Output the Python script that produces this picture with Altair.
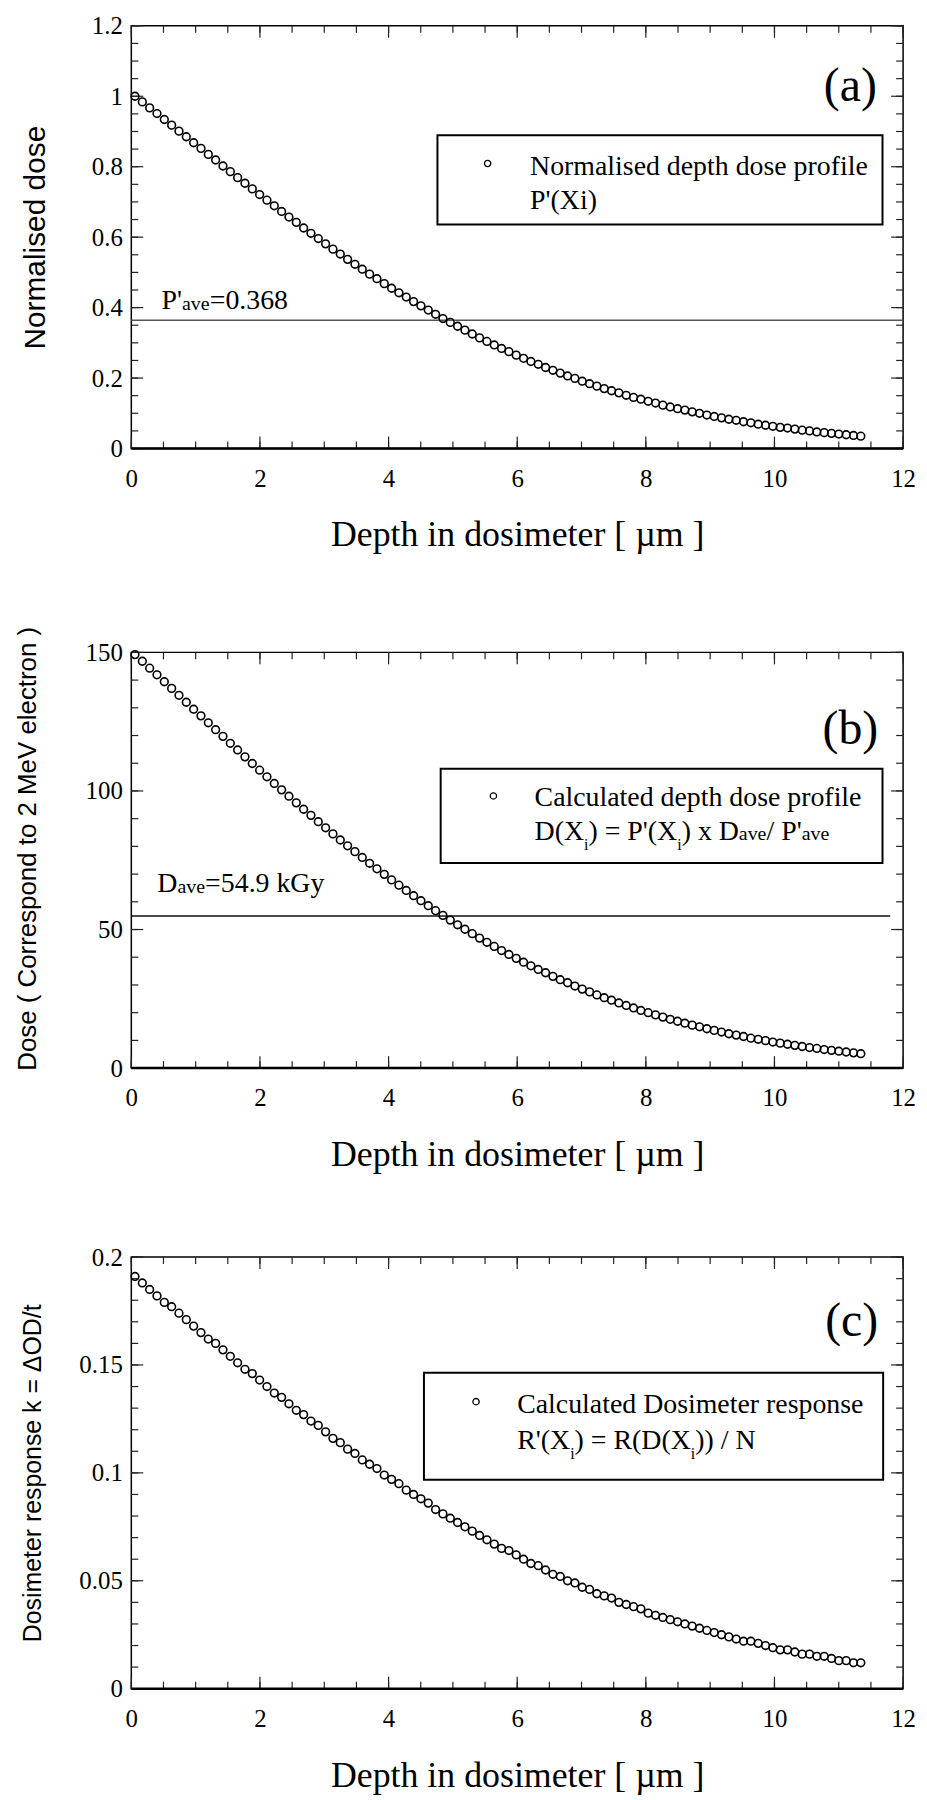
import altair as alt
import pandas as pd

SERIF = "Liberation Serif"
SANS = "Liberation Sans"
W = 776
H_A, H_B, H_C = 425, 418, 434

# ---------------- data ----------------
depth = [0.057, 0.171, 0.285, 0.399, 0.513, 0.627, 0.741, 0.855, 0.969, 1.083,
         1.197, 1.311, 1.425, 1.539, 1.653, 1.767, 1.881, 1.995, 2.109, 2.223,
         2.337, 2.451, 2.565, 2.679, 2.793, 2.907, 3.021, 3.135, 3.249, 3.363,
         3.477, 3.591, 3.705, 3.819, 3.933, 4.047, 4.161, 4.275, 4.389, 4.503,
         4.617, 4.731, 4.845, 4.959, 5.073, 5.187, 5.301, 5.415, 5.529, 5.643,
         5.757, 5.871, 5.985, 6.099, 6.213, 6.327, 6.441, 6.555, 6.669, 6.783,
         6.897, 7.011, 7.125, 7.239, 7.353, 7.467, 7.581, 7.695, 7.809, 7.923,
         8.037, 8.151, 8.265, 8.379, 8.493, 8.607, 8.721, 8.835, 8.949, 9.063,
         9.177, 9.291, 9.405, 9.519, 9.633, 9.747, 9.861, 9.975, 10.089, 10.203,
         10.317, 10.431, 10.545, 10.659, 10.773, 10.887, 11.001, 11.115, 11.229, 11.343]

p_norm = [1.000, 0.984, 0.967, 0.951, 0.934, 0.918, 0.901, 0.885, 0.868, 0.852,
          0.835, 0.819, 0.802, 0.786, 0.769, 0.753, 0.737, 0.721, 0.705, 0.689,
          0.673, 0.657, 0.642, 0.626, 0.611, 0.596, 0.581, 0.566, 0.552, 0.537,
          0.523, 0.509, 0.495, 0.482, 0.468, 0.455, 0.442, 0.430, 0.417, 0.405,
          0.393, 0.381, 0.369, 0.358, 0.347, 0.336, 0.325, 0.314, 0.304, 0.294,
          0.284, 0.275, 0.265, 0.256, 0.247, 0.239, 0.230, 0.222, 0.214, 0.206,
          0.199, 0.191, 0.184, 0.177, 0.170, 0.164, 0.158, 0.151, 0.145, 0.140,
          0.134, 0.129, 0.123, 0.118, 0.113, 0.109, 0.104, 0.100, 0.095, 0.091,
          0.087, 0.083, 0.080, 0.076, 0.073, 0.069, 0.066, 0.063, 0.060, 0.058,
          0.055, 0.052, 0.050, 0.047, 0.045, 0.043, 0.041, 0.039, 0.037, 0.035]

dose = [149.2, 146.8, 144.3, 141.9, 139.4, 137.0, 134.5, 132.0, 129.5, 127.1,
        124.6, 122.1, 119.7, 117.2, 114.8, 112.3, 109.9, 107.5, 105.1, 102.7,
        100.4, 98.1, 95.7, 93.4, 91.2, 88.9, 86.7, 84.5, 82.3, 80.2,
        78.1, 76.0, 73.9, 71.9, 69.9, 67.9, 66.0, 64.1, 62.2, 60.4,
        58.6, 56.8, 55.1, 53.4, 51.7, 50.1, 48.5, 46.9, 45.4, 43.9,
        42.4, 41.0, 39.6, 38.2, 36.9, 35.6, 34.4, 33.1, 31.9, 30.8,
        29.6, 28.5, 27.5, 26.4, 25.4, 24.5, 23.5, 22.6, 21.7, 20.8,
        20.0, 19.2, 18.4, 17.6, 16.9, 16.2, 15.5, 14.9, 14.2, 13.6,
        13.0, 12.4, 11.9, 11.4, 10.8, 10.4, 9.9, 9.4, 9.0, 8.6,
        8.2, 7.8, 7.4, 7.1, 6.7, 6.4, 6.1, 5.8, 5.5, 5.2]

resp = [0.191, 0.188, 0.185, 0.182, 0.179, 0.177, 0.174, 0.171, 0.168, 0.165,
        0.162, 0.160, 0.157, 0.154, 0.151, 0.148, 0.146, 0.143, 0.140, 0.137,
        0.135, 0.132, 0.129, 0.127, 0.124, 0.122, 0.119, 0.116, 0.114, 0.111,
        0.109, 0.106, 0.104, 0.102, 0.099, 0.097, 0.095, 0.092, 0.090, 0.088,
        0.086, 0.083, 0.081, 0.079, 0.077, 0.075, 0.073, 0.071, 0.069, 0.067,
        0.065, 0.064, 0.062, 0.060, 0.058, 0.057, 0.055, 0.053, 0.052, 0.050,
        0.049, 0.047, 0.046, 0.044, 0.043, 0.042, 0.040, 0.039, 0.038, 0.037,
        0.035, 0.034, 0.033, 0.032, 0.031, 0.030, 0.029, 0.028, 0.027, 0.026,
        0.025, 0.024, 0.023, 0.022, 0.022, 0.021, 0.020, 0.019, 0.018, 0.018,
        0.017, 0.016, 0.016, 0.015, 0.015, 0.014, 0.013, 0.013, 0.012, 0.012]

# tick values
x_major = [0, 2, 4, 6, 8, 10, 12]
x_minor = [0, 0.5, 1, 1.5, 2, 2.5, 3, 3.5, 4, 4.5, 5, 5.5, 6, 6.5, 7, 7.5,
           8, 8.5, 9, 9.5, 10, 10.5, 11, 11.5, 12]
a_major = [0, 0.2, 0.4, 0.6, 0.8, 1, 1.2]
a_minor = [0, 0.05, 0.1, 0.15, 0.2, 0.25, 0.3, 0.35, 0.4, 0.45, 0.5, 0.55, 0.6,
           0.65, 0.7, 0.75, 0.8, 0.85, 0.9, 0.95, 1, 1.05, 1.1, 1.15, 1.2]
b_major = [0, 50, 100, 150]
b_minor = [0, 10, 20, 30, 40, 50, 60, 70, 80, 90, 100, 110, 120, 130, 140, 150]
c_major = [0, 0.05, 0.1, 0.15, 0.2]
c_minor = [0, 0.01, 0.02, 0.03, 0.04, 0.05, 0.06, 0.07, 0.08, 0.09, 0.1, 0.11,
           0.12, 0.13, 0.14, 0.15, 0.16, 0.17, 0.18, 0.19, 0.2]

P_AVE_LEVEL = 0.364
D_AVE_LEVEL = 54.9
D_LINE_END = 11.8
X_TITLE = "Depth in dosimeter [ µm ]"


def xs():
    return alt.Scale(domain=[0, 12], nice=False, zero=False)


def ysc(dom):
    return alt.Scale(domain=dom, nice=False, zero=False)


def x_axis():
    return alt.Axis(values=x_major, format="~r", title=X_TITLE, titleFont=SERIF,
                    titleFontSize=36, titleFontWeight="normal", titlePadding=27,
                    titleColor="black", labelFont=SERIF, labelFontSize=25,
                    labelColor="black", labelPadding=18, labelFlush=False,
                    labelOverlap=False, ticks=False, tickSize=0, domain=False, grid=False)


def y_axis(vals, title, tsize, tpad, title_y=None):
    kw = dict(values=vals, format="~r", title=title, titleFont=SANS,
              titleFontSize=tsize, titleFontWeight="normal", titlePadding=tpad,
              titleColor="black", labelFont=SERIF, labelFontSize=25,
              labelColor="black", labelPadding=9, labelFlush=False,
              labelOverlap=False, ticks=False, tickSize=0, domain=False, grid=False)
    if title_y is not None:
        kw["titleY"] = title_y
    return alt.Axis(**kw)


class Panel:
    def __init__(self, dom, yax, h):
        self.dom = dom
        self.yax = yax
        self.h = h

    def X(self, field):
        return alt.X(field, scale=xs(), axis=x_axis())

    def Y(self, field):
        return alt.Y(field, scale=ysc(self.dom), axis=self.yax)

    def txt(self, x, y, t, size, dx=0, dy=0, align="left", baseline="alphabetic"):
        d = pd.DataFrame({"x": [x], "y": [y], "t": [t]})
        return alt.Chart(d).mark_text(align=align, baseline=baseline, dx=dx, dy=dy,
                                      fontSize=size, font=SERIF, color="black").encode(
            x=self.X("x:Q"), y=self.Y("y:Q"), text=alt.Text("t:N"))

    def ticks(self, ymaj, ymin):
        H = self.h
        out = []
        for vals, L in ((x_minor, 7), (x_major, 12)):
            base = alt.Chart(pd.DataFrame({"v": vals})).mark_rule(color="#222", strokeWidth=1.2)
            out.append(base.encode(x=self.X("v:Q"), y=alt.value(H), y2=alt.value(H - L)))
            out.append(base.encode(x=self.X("v:Q"), y=alt.value(0), y2=alt.value(L)))
        for vals, L in ((ymin, 7), (ymaj, 12)):
            base = alt.Chart(pd.DataFrame({"v": vals})).mark_rule(color="#222", strokeWidth=1.2)
            out.append(base.encode(y=self.Y("v:Q"), x=alt.value(0), x2=alt.value(L)))
            out.append(base.encode(y=self.Y("v:Q"), x=alt.value(W), x2=alt.value(W - L)))
        out.append(alt.Chart(pd.DataFrame({"v": [0]})).mark_rule(color="black", strokeWidth=2.5).encode(
            x=alt.value(0), x2=alt.value(W), y=alt.value(H)))
        return out

    def hline(self, x0, x1, y, color):
        d = pd.DataFrame({"x": [x0], "x2": [x1], "y": [y]})
        return alt.Chart(d).mark_rule(color=color, strokeWidth=1.6).encode(
            x=self.X("x:Q"), x2="x2:Q", y=self.Y("y:Q"))

    def legend_box(self, x0, x1, y0, y1, mx, my):
        d = pd.DataFrame({"x": [x0], "x2": [x1], "y": [y0], "y2": [y1]})
        box = alt.Chart(d).mark_rect(fill="white", stroke="black", strokeWidth=2).encode(
            x=self.X("x:Q"), x2="x2:Q", y=self.Y("y:Q"), y2="y2:Q")
        m = pd.DataFrame({"x": [mx], "y": [my]})
        mk = alt.Chart(m).mark_point(shape="circle", filled=False, color="black",
                                     size=40, strokeWidth=1.3, opacity=1).encode(
            x=self.X("x:Q"), y=self.Y("y:Q"))
        return [box, mk]

    def scatter(self, vals):
        d = pd.DataFrame({"depth": depth, "v": vals})
        return alt.Chart(d).mark_point(shape="circle", filled=False, color="black",
                                       size=60, strokeWidth=1.6, opacity=1).encode(
            x=self.X("depth:Q"), y=self.Y("v:Q"))


# ---------------- panel (a) ----------------
pa = Panel([0, 1.2], y_axis(a_major, "Normalised dose", 30, 41), H_A)
layers_a = pa.ticks(a_major, a_minor)
layers_a.append(pa.hline(0, 12, P_AVE_LEVEL, "#555"))
layers_a += pa.legend_box(4.76, 11.68, 0.636, 0.889, 5.54, 0.809)
layers_a += [
    pa.txt(6.20, 0.806, "Normalised depth dose profile", 28, dy=10),
    pa.txt(6.20, 0.709, "P'(Xi)", 28, dy=10),
    pa.txt(0.47, 0.397, "P'", 28),
    pa.txt(0.47, 0.397, "ave", 20, dx=20.6, dy=1),
    pa.txt(0.47, 0.397, "=0.368", 28, dx=48.4),
    pa.txt(11.18, 1.025, "(a)", 48, align="center", baseline="middle"),
    pa.scatter(p_norm),
]
panel_a = alt.layer(*layers_a).properties(width=W, height=H_A)

# ---------------- panel (b) ----------------
pb = Panel([0, 150], y_axis(b_major, "Dose ( Correspond to 2 MeV electron )", 26, 45,
                            title_y=197), H_B)
layers_b = pb.ticks(b_major, b_minor)
layers_b.append(pb.hline(0, D_LINE_END, D_AVE_LEVEL, "#111"))
layers_b += pb.legend_box(4.81, 11.68, 74.0, 108.0, 5.63, 98.2)
layers_b += [
    pb.txt(6.27, 98.2, "Calculated depth dose profile", 28, dy=10),
    pb.txt(6.27, 85.8, "D(X", 28, dx=0, dy=10),
    pb.txt(6.27, 85.8, "i", 16, dx=49.8, dy=20),
    pb.txt(6.27, 85.8, ") = P'(X", 28, dx=54.2, dy=10),
    pb.txt(6.27, 85.8, "i", 16, dx=143.5, dy=20),
    pb.txt(6.27, 85.8, ") x D", 28, dx=147.9, dy=10),
    pb.txt(6.27, 85.8, "ave", 20, dx=205.4, dy=10),
    pb.txt(6.27, 85.8, "/ P'", 28, dx=233.2, dy=10),
    pb.txt(6.27, 85.8, "ave", 20, dx=268.6, dy=10),
    pb.txt(0.405, 63.6, "D", 28),
    pb.txt(0.405, 63.6, "ave", 20, dx=20.2, dy=1),
    pb.txt(0.405, 63.6, "=54.9 kGy", 28, dx=48.0),
    pb.txt(11.18, 122.0, "(b)", 48, align="center", baseline="middle"),
    pb.scatter(dose),
]
panel_b = alt.layer(*layers_b).properties(width=W, height=H_B)

# ---------------- panel (c) ----------------
pc = Panel([0, 0.2], y_axis(c_major, "Dosimeter response k = \u0394OD/t", 25, 34), H_C)
layers_c = pc.ticks(c_major, c_minor)
layers_c += pc.legend_box(4.55, 11.69, 0.0968, 0.1464, 5.36, 0.133)
layers_c += [
    pc.txt(6.0, 0.1322, "Calculated Dosimeter response", 28, dy=10),
    pc.txt(6.0, 0.1157, "R'(X", 28, dx=0, dy=10),
    pc.txt(6.0, 0.1157, "i", 16, dx=53.3, dy=20),
    pc.txt(6.0, 0.1157, ") = R(D(X", 28, dx=57.7, dy=10),
    pc.txt(6.0, 0.1157, "i", 16, dx=174.6, dy=20),
    pc.txt(6.0, 0.1157, ")) / N", 28, dx=179.0, dy=10),
    pc.txt(11.2, 0.170, "(c)", 48, align="center", baseline="middle"),
    pc.scatter(resp),
]
panel_c = alt.layer(*layers_c).properties(width=W, height=H_C)

chart = alt.vconcat(panel_a, panel_b, panel_c, spacing=71).properties(
    padding={"left": 5, "top": 0, "right": 2, "bottom": 0}
).configure_view(stroke="black", strokeWidth=1.5)

chart.save("out.html", embed_options={"renderer": "svg", "actions": False})
